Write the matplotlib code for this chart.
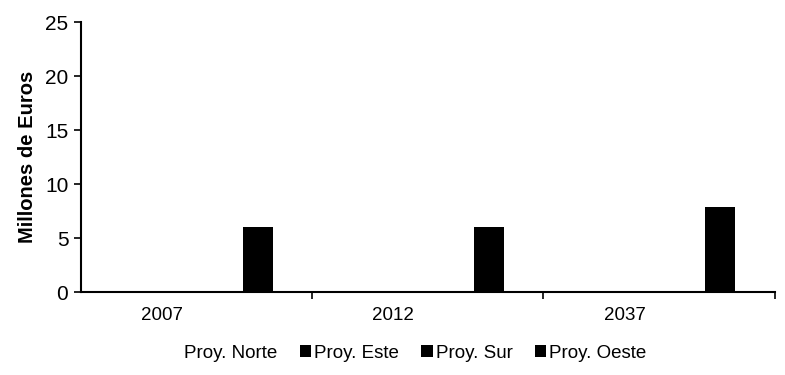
import numpy as np
import matplotlib
matplotlib.use("Agg")
import matplotlib.pyplot as plt

plt.rcParams['font.family'] = ['Liberation Sans', 'DejaVu Sans']

# datos (solo Oeste se ve con claridad)
years = ["2007", "2012", "2037"]
norte = [8.3, 14.0, 21.5]
este = [6.2, 5.5, 7.5]
sur = [1.5, 3.0, 6.5]
oeste = [6.0, 6.0, 7.9]

series = [("Proy. Norte", norte, "white"),
          ("Proy. Este", este, "white"),
          ("Proy. Sur", sur, "white"),
          ("Proy. Oeste", oeste, "black")]

fig = plt.figure(figsize=(7.85, 3.75), dpi=100)
ax = fig.add_axes([0.103, 0.221, 0.884, 0.72])

x = np.arange(len(years))
w = 0.13
offsets = [-0.125, 0.005, 0.135, 0.265]
for (name, vals, col), off in zip(series, offsets):
    ax.bar(x + off, vals, width=w, color=col, edgecolor="none", label=name)

# marcas de legenda (Norte sin cuadro visible en la imagen)
handles, labels = ax.get_legend_handles_labels()
leg_cols = ["white", "black", "black", "black"]
proxies = [plt.Rectangle((0, 0), 1, 1, fc=c, ec="none") for c in leg_cols]

ax.set_xlim(-0.5, 2.5)
ax.set_ylim(0, 25)
ax.set_yticks(range(0, 26, 5))
ax.set_xticks(x - 0.15)
ax.set_xticklabels(years)
ax.set_xticks([0.5, 1.5, 2.5], minor=True)
ax.tick_params(axis="x", which="major", length=0, pad=11, labelsize=13.5)
ax.tick_params(axis="x", which="minor", length=5, width=1.2, direction="out")
ax.tick_params(axis="y", length=5, width=1.2, direction="out", labelsize=15, pad=4)

for s in ["top", "right"]:
    ax.spines[s].set_visible(False)
for s in ["left", "bottom"]:
    ax.spines[s].set_linewidth(1.5)
    ax.spines[s].set_color("black")

ax.set_ylabel("Millones de Euros", fontsize=14.5, fontweight="bold", labelpad=6)

fig.legend(proxies, labels, loc="center", bbox_to_anchor=(0.52, 0.058),
           ncol=4, frameon=False, fontsize=13.5, handlelength=0.6,
           handleheight=0.6, handletextpad=0.15, columnspacing=1.2)

fig.savefig("out.png", dpi=100, facecolor="white")
plt.close(fig)
